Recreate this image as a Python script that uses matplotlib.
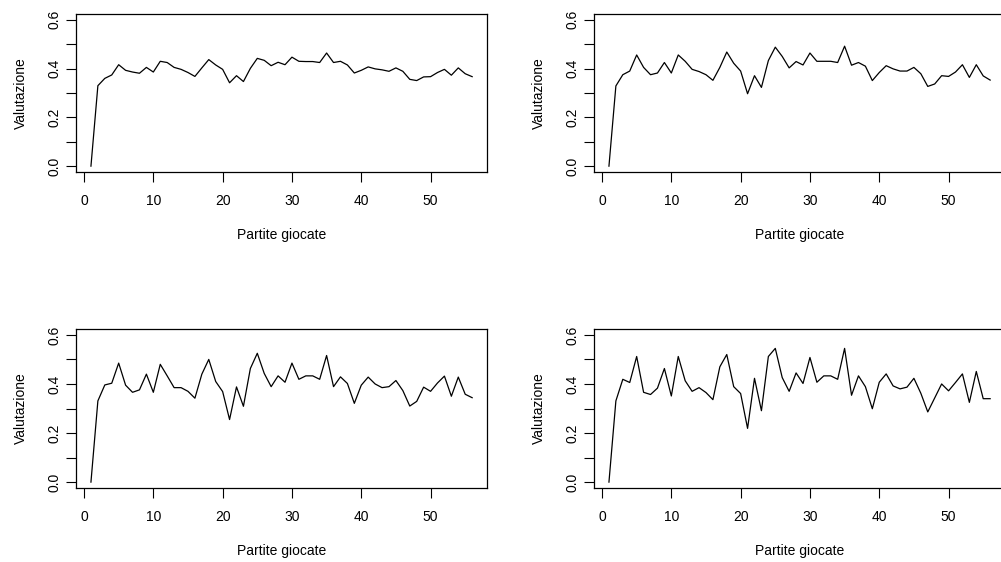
import numpy as np
import matplotlib
matplotlib.use("Agg")
from matplotlib import pyplot as plt

plt.rcParams["font.family"] = ["Liberation Sans", "DejaVu Sans"]

partite = list(range(1, 57))

val_1 = [0.0, 0.33, 0.36, 0.374, 0.416, 0.393, 0.386, 0.381, 0.405, 0.386,
         0.43, 0.425, 0.405, 0.397, 0.384, 0.368, 0.403, 0.437, 0.415, 0.397,
         0.342, 0.371, 0.347, 0.401, 0.442, 0.434, 0.412, 0.426, 0.416, 0.447,
         0.43, 0.429, 0.429, 0.425, 0.464, 0.425, 0.43, 0.415, 0.382, 0.393,
         0.407, 0.399, 0.395, 0.389, 0.403, 0.389, 0.356, 0.351, 0.366, 0.367,
         0.384, 0.397, 0.373, 0.403, 0.379, 0.367]

val_2 = [0.0, 0.329, 0.375, 0.39, 0.456, 0.405, 0.375, 0.382, 0.425, 0.382,
         0.456, 0.43, 0.397, 0.388, 0.375, 0.352, 0.405, 0.468, 0.422, 0.39,
         0.297, 0.371, 0.323, 0.433, 0.488, 0.45, 0.403, 0.429, 0.415, 0.464,
         0.43, 0.43, 0.43, 0.425, 0.492, 0.414, 0.425, 0.41, 0.351, 0.384,
         0.412, 0.399, 0.39, 0.39, 0.405, 0.379, 0.327, 0.337, 0.371, 0.368,
         0.386, 0.416, 0.364, 0.416, 0.37, 0.353]

val_3 = [0.0, 0.331, 0.396, 0.403, 0.485, 0.395, 0.366, 0.376, 0.44, 0.366,
         0.48, 0.433, 0.385, 0.385, 0.37, 0.342, 0.44, 0.5, 0.41, 0.369,
         0.255, 0.388, 0.309, 0.463, 0.525, 0.443, 0.389, 0.433, 0.407, 0.485,
         0.419, 0.433, 0.433, 0.419, 0.516, 0.389, 0.429, 0.402, 0.321, 0.395,
         0.428, 0.4, 0.385, 0.389, 0.414, 0.373, 0.31, 0.329, 0.387, 0.37,
         0.404, 0.432, 0.35, 0.428, 0.358, 0.344]

val_4 = [0.0, 0.331, 0.419, 0.406, 0.512, 0.366, 0.357, 0.383, 0.463, 0.351,
         0.512, 0.413, 0.37, 0.385, 0.365, 0.336, 0.47, 0.52, 0.389, 0.361,
         0.219, 0.423, 0.291, 0.512, 0.545, 0.426, 0.37, 0.445, 0.402, 0.508,
         0.407, 0.433, 0.433, 0.419, 0.545, 0.354, 0.433, 0.389, 0.299, 0.407,
         0.441, 0.392, 0.38, 0.387, 0.423, 0.362, 0.286, 0.343, 0.4, 0.372,
         0.406, 0.441, 0.325, 0.451, 0.34, 0.34]

serie = [val_1, val_2, val_3, val_4]

y_ticks = [0.0, 0.1, 0.2, 0.3, 0.4, 0.5, 0.6]
y_labels = ["0.0", "", "0.2", "", "0.4", "", "0.6"]
x_ticks = [0, 10, 20, 30, 40, 50]

W, H = 1001, 562
fig = plt.figure(figsize=(W / 100, H / 100), dpi=100)

# box positions in pixels: left, top, right, bottom
boxes = [(75.7, 14, 487.4, 172), (593.7, 14, 1005.4, 172),
         (75.7, 329, 487.4, 488), (593.7, 329, 1005.4, 488)]

for (l, t, r, b), vals in zip(boxes, serie):
    ax = fig.add_axes([l / W, 1 - b / H, (r - l) / W, (b - t) / H])
    ax.plot(partite, vals, color="black", linewidth=0.9)
    ax.set_xlim(-1.2, 58.2)
    ax.set_ylim(-0.024, 0.624)
    ax.set_xticks(x_ticks)
    ax.set_yticks(y_ticks)
    ax.set_yticklabels(y_labels, rotation=90, va="center")
    ax.tick_params(direction="out", length=7.5, width=0.8, labelsize=10, colors="black")
    ax.tick_params(axis="y", pad=3)
    ax.tick_params(axis="x", pad=8)
    for s in ax.spines.values():
        s.set_linewidth(0.9)
    ax.set_xlabel("Partite giocate", fontsize=10, labelpad=15)
    ax.set_ylabel("Valutazione", fontsize=10, labelpad=14)

fig.savefig("out.png", dpi=100)
